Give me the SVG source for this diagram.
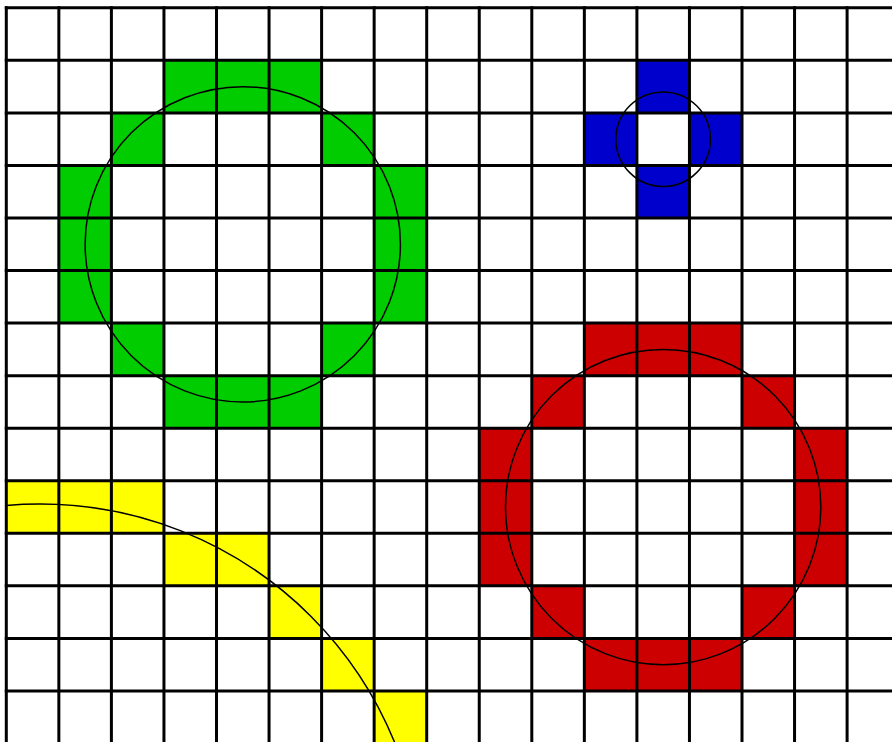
<svg xmlns="http://www.w3.org/2000/svg" width="892" height="742" viewBox="0 0 892 742">
<style>
.g{fill:#00cc00}.b{fill:#0000cc}.r{fill:#cc0000}.y{fill:#ffff00}
.grid line{stroke:#000;stroke-width:3;stroke-linecap:square;vector-effect:non-scaling-stroke}
.circ{fill:none;stroke:#000;stroke-width:1.5;vector-effect:non-scaling-stroke}
</style>
<defs>
<clipPath id="gridclip"><rect x="6.3" y="7.8" width="900" height="760"/></clipPath>
</defs>
<rect width="892" height="742" fill="#fff"/>
<g transform="translate(6.3 7.8) scale(52.55)">
<g id="green-cells" class="g">
<rect x="3" y="1" width="3" height="1"/>
<rect x="2" y="2" width="1" height="1"/><rect x="6" y="2" width="1" height="1"/>
<rect x="1" y="3" width="1" height="3"/><rect x="7" y="3" width="1" height="3"/>
<rect x="2" y="6" width="1" height="1"/><rect x="6" y="6" width="1" height="1"/>
<rect x="3" y="7" width="3" height="1"/>
</g>
<g id="blue-cells" class="b">
<rect x="12" y="1" width="1" height="1"/>
<rect x="11" y="2" width="1" height="1"/><rect x="13" y="2" width="1" height="1"/>
<rect x="12" y="3" width="1" height="1"/>
</g>
<g id="red-cells" class="r">
<rect x="11" y="6" width="3" height="1"/>
<rect x="10" y="7" width="1" height="1"/><rect x="14" y="7" width="1" height="1"/>
<rect x="9" y="8" width="1" height="3"/><rect x="15" y="8" width="1" height="3"/>
<rect x="10" y="11" width="1" height="1"/><rect x="14" y="11" width="1" height="1"/>
<rect x="11" y="12" width="3" height="1"/>
</g>
<g id="yellow-cells" class="y">
<rect x="0" y="9" width="3" height="1"/>
<rect x="3" y="10" width="2" height="1"/>
<rect x="5" y="11" width="1" height="1"/>
<rect x="6" y="12" width="1" height="1"/>
<rect x="7" y="13" width="1" height="1"/>
</g>
<g class="grid" id="grid">
<line x1="0" y1="0" x2="0" y2="15"/><line x1="1" y1="0" x2="1" y2="15"/><line x1="2" y1="0" x2="2" y2="15"/><line x1="3" y1="0" x2="3" y2="15"/><line x1="4" y1="0" x2="4" y2="15"/><line x1="5" y1="0" x2="5" y2="15"/><line x1="6" y1="0" x2="6" y2="15"/><line x1="7" y1="0" x2="7" y2="15"/><line x1="8" y1="0" x2="8" y2="15"/><line x1="9" y1="0" x2="9" y2="15"/><line x1="10" y1="0" x2="10" y2="15"/><line x1="11" y1="0" x2="11" y2="15"/><line x1="12" y1="0" x2="12" y2="15"/><line x1="13" y1="0" x2="13" y2="15"/><line x1="14" y1="0" x2="14" y2="15"/><line x1="15" y1="0" x2="15" y2="15"/><line x1="16" y1="0" x2="16" y2="15"/>
<line x1="0" y1="0" x2="18" y2="0"/><line x1="0" y1="1" x2="18" y2="1"/><line x1="0" y1="2" x2="18" y2="2"/><line x1="0" y1="3" x2="18" y2="3"/><line x1="0" y1="4" x2="18" y2="4"/><line x1="0" y1="5" x2="18" y2="5"/><line x1="0" y1="6" x2="18" y2="6"/><line x1="0" y1="7" x2="18" y2="7"/><line x1="0" y1="8" x2="18" y2="8"/><line x1="0" y1="9" x2="18" y2="9"/><line x1="0" y1="10" x2="18" y2="10"/><line x1="0" y1="11" x2="18" y2="11"/><line x1="0" y1="12" x2="18" y2="12"/><line x1="0" y1="13" x2="18" y2="13"/>
</g>
<g id="circles">
<circle id="green-circle" class="circ" cx="4.5" cy="4.5" r="3"/>
<circle id="blue-circle" class="circ" cx="12.5" cy="2.5" r="0.9"/>
<circle id="red-circle" class="circ" cx="12.5" cy="9.5" r="3"/>
</g>
</g>
<circle id="yellow-circle" class="circ" cx="40" cy="887" r="383" clip-path="url(#gridclip)"/>
</svg>
